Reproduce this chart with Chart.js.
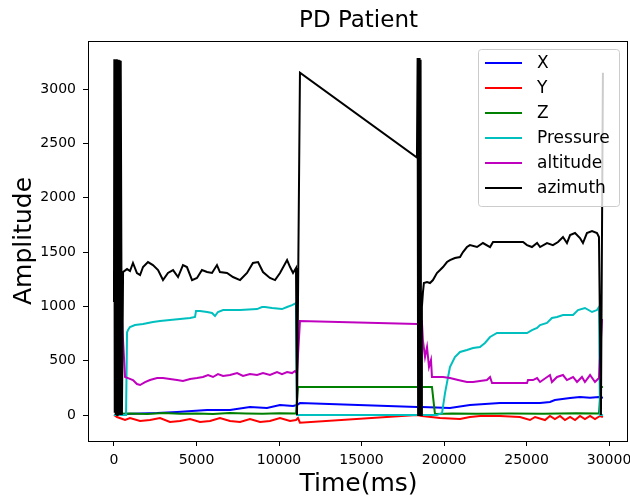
<!DOCTYPE html>
<html>
<head>
<meta charset="utf-8">
<script src="https://cdn.jsdelivr.net/npm/chart.js@4.4.0/dist/chart.umd.min.js"></script>
<style>
    html, body { margin: 0; padding: 0; background: #fff; }
    #wrap { width: 630px; height: 500px; }
</style>
</head>
<body>
<div id="wrap"><canvas id="myPenChart" width="630" height="500"></canvas></div>
<script>
// channel names, in legend order
var seriesNames = ['X', 'Y', 'Z', 'Pressure', 'altitude', 'azimuth'];
var seriesColors = ['#0000ff', '#ff0000', '#008000', '#00bfbf', '#bf00bf', '#000000'];
var xTicks = [0, 5000, 10000, 15000, 20000, 25000, 30000];
var yTicks = [0, 500, 1000, 1500, 2000, 2500, 3000];

// X
var xTime = [0, 550, 1580, 2610, 3820, 5640, 7030, 8240, 9270, 10060, 10850, 11090,
    11270, 18360, 18660, 20360, 21570, 23390, 25820, 26420, 26720, 27640, 28240, 28850, 29390, 29630];
var xVal = [0, 10, 15, 18, 28, 46, 46, 74, 64, 92, 83, 92,
    110, 74, 74, 64, 92, 110, 110, 120, 138, 156, 166, 160, 166, 160];

// Y
var yTime = [0, 180, 670, 970, 1580, 2180, 2790, 3390, 4000, 4610, 5210, 5820, 6420, 7030, 7640,
    8240, 8850, 9450, 10060, 10670, 11030, 11150, 11270, 18360, 18660, 19760, 20970, 21570, 22180,
    23390, 24600, 25210, 25520, 26120, 26420, 26720, 27030, 27330, 27640, 27940, 28240, 28540,
    28850, 29150, 29450, 29630];
var yVal = [0, -18, -46, -28, -55, -46, -28, -64, -55, -37, -64, -55, -28, -55, -64,
    -37, -64, -55, -28, -55, -46, -28, -70, 0, -9, -28, -37, -18, -9,
    -9, -18, -46, -18, -46, -9, -37, -9, -46, -18, -46, -9, -37,
    -9, -37, -9, -18];

// Z
var zTime = [0, 180, 260, 1000, 2000, 3000, 4000, 5000, 6000, 7000, 8000, 9000, 10000, 11030,
    11150, 18360, 19270, 19450, 20500, 22000, 24000, 26000, 28000, 29390, 29510, 29630];
var zVal = [258, 258, 12, 15, 10, 18, 12, 15, 10, 18, 14, 12, 16, 14,
    258, 258, 258, 10, 14, 12, 15, 12, 16, 14, 258, 258];

// Pressure
var pressureTime = [0, 730, 790, 850, 970, 1270, 1760, 2060, 2360, 2790, 3390, 4000, 4610, 4910,
    4970, 5210, 5640, 5940, 6120, 6300, 6610, 7640, 8670, 8970, 9150, 9580, 10180, 10490, 10790,
    11030, 11090, 18360, 19570, 19880, 20060, 20360, 20660, 20970, 21390, 21760, 22180, 22480,
    22790, 23210, 23820, 24420, 25030, 25330, 25640, 25820, 26240, 26540, 26850, 27210, 27820,
    28120, 28540, 28970, 29270, 29390, 29450, 29630];
var pressureVal = [0, 0, 760, 782, 810, 828, 837, 847, 856, 865, 874, 883, 893, 902,
    957, 957, 948, 939, 911, 948, 966, 966, 975, 994, 994, 985, 975, 994, 1012,
    1030, 0, 0, 0, 18, 202, 442, 534, 580, 598, 617, 626, 663,
    718, 755, 755, 755, 755, 782, 801, 828, 847, 893, 902, 920, 920,
    966, 985, 948, 966, 994, 0, 0];

// altitude
var altitudeTime = [0, 480, 670, 850, 1150, 1390, 1580, 1880, 2180, 2610, 2970, 3390, 3820, 4180,
    4610, 5030, 5390, 5700, 6000, 6300, 6610, 7030, 7460, 7820, 8240, 8670, 9030, 9450, 9880,
    10180, 10490, 10790, 10970, 11090, 11270, 18360, 18660, 18720, 18850, 18970, 19090, 19210,
    19270, 19570, 19940, 20360, 20850, 21390, 21760, 22180, 22600, 22790, 22910, 25030, 25090,
    25390, 25640, 25820, 26420, 26540, 26850, 27210, 27450, 27820, 28060, 28360, 28540, 28850,
    29150, 29390, 29570, 29630];
var altitudeVal = [874, 874, 350, 340, 322, 285, 276, 303, 322, 340, 340, 331, 322, 313,
    331, 340, 350, 368, 350, 377, 359, 368, 386, 359, 377, 368, 386, 368, 396,
    377, 396, 386, 405, 386, 865, 837, 860, 690, 534, 626, 442, 506,
    350, 350, 350, 340, 322, 304, 304, 313, 322, 350, 295, 295, 322,
    322, 340, 304, 368, 304, 350, 368, 322, 350, 304, 350, 304, 368,
    304, 340, 874, 874];

// azimuth
var azimuthTime = [0, 20, 45, 70, 95, 120, 145, 170, 195, 220, 245, 270, 295, 320, 345, 370, 395,
    420, 480, 550, 790, 970,
    1150, 1390, 1580, 1760, 2060, 2360, 2670, 2970, 3270, 3580, 3880, 4180, 4420, 4730, 5030,
    5330, 5640, 5940, 6240, 6420, 6850, 7210, 7640, 8060, 8420, 8730, 9030, 9450, 9760, 10060,
    10490, 10670, 10850, 11030, 11090, 11270, 18360, 18400, 18430, 18460, 18490, 18520, 18550,
    18580, 18610, 18660, 18720, 18780, 18970, 19150, 19330, 19570, 19760, 19940, 20180, 20360,
    20660, 20970, 21150, 21390, 21570, 22000, 22360, 22790, 22970, 23390, 24790, 25030, 25330,
    25640, 25820, 26240, 26600, 26910, 27210, 27450, 27640, 27940, 28240, 28420, 28660, 28970,
    29270, 29390, 29510, 29630];
var azimuthVal = [1040, 3275, 20, 3270, 0, 3260, 10, 3275, 0, 3250, 30, 3270, 0, 3265, 10, 3260, 0,
    3240, 0, 1316, 1343, 1325,
    1399, 1307, 1288, 1362, 1408, 1380, 1334, 1242, 1307, 1334, 1270, 1380, 1362, 1242, 1261,
    1334, 1316, 1307, 1380, 1316, 1307, 1270, 1242, 1307, 1399, 1408, 1316, 1261, 1242, 1307,
    1426, 1362, 1307, 1353, 0, 3150, 2370, 3285, 0, 3280, 10, 3285, 0,
    3270, 0, 994, 1123, 1215, 1224, 1215, 1242, 1307, 1334, 1362, 1408, 1426,
    1445, 1454, 1500, 1546, 1564, 1546, 1583, 1546, 1592, 1592, 1592, 1564, 1546,
    1583, 1546, 1583, 1564, 1592, 1638, 1583, 1656, 1675, 1629, 1583, 1675, 1693,
    1675, 1638, 0, 3150];

function toPoints(t, v) {
    var pts = [];
    for (let i = 0; i < t.length; i++) {
        pts.push({x: t[i], y: v[i]});
    }
    return pts;
}

var seriesData = [
    toPoints(xTime, xVal),
    toPoints(yTime, yVal),
    toPoints(zTime, zVal),
    toPoints(pressureTime, pressureVal),
    toPoints(altitudeTime, altitudeVal),
    toPoints(azimuthTime, azimuthVal)
];

var datasets = [];
for (let i = 0; i < seriesNames.length; i++) {
    datasets.push({
        label: seriesNames[i],
        data: seriesData[i],
        borderColor: seriesColors[i],
        backgroundColor: seriesColors[i],
        borderWidth: 2,
        pointRadius: 0,
        tension: 0,
        fill: false,
        order: seriesNames.length - i   // later series drawn on top, like matplotlib
    });
}

// box round the plot area
var framePlugin = {
    id: 'frame',
    afterDatasetsDraw: function (chart) {
        var a = chart.chartArea;
        var ctx = chart.ctx;
        ctx.save();
        ctx.strokeStyle = '#000';
        ctx.lineWidth = 1;
        ctx.strokeRect(Math.round(a.left) - 0.5, Math.round(a.top) + 0.5,
            Math.round(a.right - a.left), Math.round(a.bottom - a.top));
        ctx.restore();
    }
};

// legend in the upper right corner, inside the axes
var insideLegend = {
    id: 'insideLegend',
    afterDraw: function (chart) {
        var a = chart.chartArea;
        var ctx = chart.ctx;
        var sets = chart.data.datasets;
        ctx.save();
        ctx.font = '17px "DejaVu Sans"';
        var textW = 0;
        sets.forEach(function (d) {
            textW = Math.max(textW, ctx.measureText(d.label).width);
        });
        var boxW = 7 + 37 + 15 + textW + 9;
        var boxH = 157;
        var boxRight = Math.round(a.right) - 9;
        var boxLeft = Math.round(boxRight - boxW);
        var boxTop = Math.round(a.top) + 8;

        ctx.beginPath();
        ctx.roundRect(boxLeft + 0.5, boxTop + 0.5, boxRight - boxLeft, boxH, 3);
        ctx.fillStyle = 'rgba(255,255,255,0.8)';
        ctx.fill();
        ctx.strokeStyle = '#cccccc';
        ctx.lineWidth = 1;
        ctx.stroke();

        sets.forEach(function (d, i) {
            var y = boxTop + 14 + i * 25;
            ctx.beginPath();
            ctx.moveTo(boxLeft + 7, y);
            ctx.lineTo(boxLeft + 44, y);
            ctx.strokeStyle = d.borderColor;
            ctx.lineWidth = 2;
            ctx.stroke();
            ctx.fillStyle = '#000';
            ctx.textBaseline = 'middle';
            ctx.textAlign = 'left';
            ctx.fillText(d.label, boxLeft + 59, y + 1);
        });
        ctx.restore();
    }
};

Chart.defaults.font.family = "'DejaVu Sans', sans-serif";
Chart.defaults.color = '#000';

var ctx = document.getElementById('myPenChart').getContext('2d');
new Chart(ctx, {
    type: 'line',
    data: {datasets: datasets},
    options: {
        responsive: false,
        animation: false,
        layout: {padding: {left: 0, right: 2, top: 0, bottom: 0}},
        plugins: {
            legend: {display: false},
            tooltip: {enabled: false},
            title: {
                display: true,
                fullSize: false,
                text: 'PD Patient',
                color: '#000',
                font: {size: 23, weight: 'normal'},
                padding: {top: 7, bottom: 6.4}
            }
        },
        scales: {
            x: {
                type: 'linear',
                min: -1515,
                max: 31150,
                afterBuildTicks: function (scale) {
                    scale.ticks = xTicks.map(function (v) { return {value: v}; });
                },
                afterFit: function (scale) {
                    scale.height = 59;
                    // tick labels may hang past the canvas edge, as in the original
                    scale.paddingLeft = 0;
                    scale.paddingRight = 0;
                },
                ticks: {
                    font: {size: 14},
                    color: '#000',
                    padding: 6,
                    maxRotation: 0,
                    autoSkip: false,
                    callback: function (v) { return String(v); }
                },
                grid: {drawOnChartArea: false, drawTicks: true, tickLength: 5, color: '#000'},
                border: {display: false},
                title: {
                    display: true,
                    text: 'Time(ms)',
                    color: '#000',
                    font: {size: 25},
                    padding: {top: 0, bottom: 1}
                }
            },
            y: {
                type: 'linear',
                min: -239,
                max: 3442,
                afterBuildTicks: function (scale) {
                    scale.ticks = yTicks.map(function (v) { return {value: v}; });
                },
                afterFit: function (scale) {
                    scale.width = 89;
                    scale.paddingTop = 0;
                    scale.paddingBottom = 0;
                },
                ticks: {
                    font: {size: 14},
                    color: '#000',
                    padding: 7,
                    autoSkip: false,
                    callback: function (v) { return String(v); }
                },
                grid: {drawOnChartArea: false, drawTicks: true, tickLength: 6, color: '#000'},
                border: {display: false},
                title: {
                    display: true,
                    text: 'Amplitude',
                    color: '#000',
                    font: {size: 25},
                    padding: {top: 9, bottom: 0}
                }
            }
        }
    },
    plugins: [framePlugin, insideLegend]
});
</script>
</body>
</html>
